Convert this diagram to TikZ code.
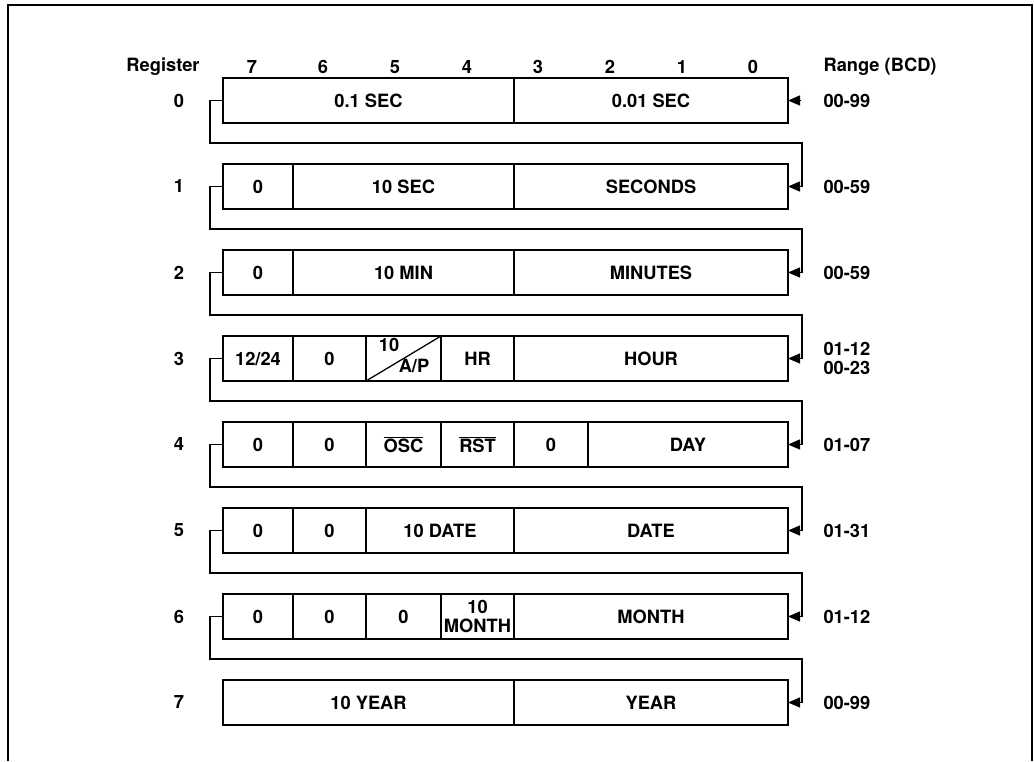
\documentclass[tikz,border=0pt]{standalone}
\usepackage{fontspec}
\setmainfont{TeX Gyre Heros}
\usetikzlibrary{arrows.meta}

\begin{document}
\begin{tikzpicture}[x=1pt,y=-1pt,>={Triangle[length=12pt,width=10pt]},
  font=\fontsize{18.3}{19.5}\selectfont\bfseries,
  cell/.style={draw,line width=1.3pt,minimum height=45pt,inner sep=0pt,outer sep=0pt,align=center},
  link/.style={line width=1.3pt},
  rng/.style={anchor=west,align=left}]
\useasboundingbox (0,0) rectangle (1034,761);
\draw[line width=1.6pt] (8,761) -- (8,5) -- (1032,5) -- (1032,761);

\node (reg) at (163,67) {Register};
\node (b7) at (252,67) {7};
\node (b6) at (323,67) {6};
\node (b5) at (395,67) {5};
\node (b4) at (467,67) {4};
\node (b3) at (538,67) {3};
\node (b2) at (610,67) {2};
\node (b1) at (682,67) {1};
\node (b0) at (753,67) {0};
\node[rng] (rng) at (820,67) {Range (BCD)};

\node (n0) at (179,100.5) {0};
\node (n1) at (179,186.5) {1};
\node (n2) at (179,272.5) {2};
\node (n3) at (179,358.5) {3};
\node (n4) at (179,444.5) {4};
\node (n5) at (179,530.5) {5};
\node (n6) at (179,616.5) {6};
\node (n7) at (179,702.5) {7};

\node[cell,minimum width=291pt] (L0) at (368.5,100.5) {0.1 SEC};
\node[cell,minimum width=274pt] (R0) at (651,100.5) {0.01 SEC};

\node[cell,minimum width=70pt] (L1) at (258,186.5) {0};
\node[cell,minimum width=221pt] (sec10) at (403.5,186.5) {10 SEC};
\node[cell,minimum width=274pt] (R1) at (651,186.5) {SECONDS};

\node[cell,minimum width=70pt] (L2) at (258,272.5) {0};
\node[cell,minimum width=221pt] (min10) at (403.5,272.5) {10 MIN};
\node[cell,minimum width=274pt] (R2) at (651,272.5) {MINUTES};

\node[cell,minimum width=70pt] (L3) at (258,358.5) {12/24};
\node[cell,minimum width=73pt] (z3) at (329.5,358.5) {0};
\node[cell,minimum width=75pt] (ap) at (403.5,358.5) {};
\draw[link] (ap.south west) -- (ap.north east);
\node (ten) at (389,345) {10};
\node (apm) at (414,366) {A/P};
\node[cell,minimum width=73pt] (hr) at (477.5,358.5) {HR};
\node[cell,minimum width=274pt] (R3) at (651,358.5) {HOUR};

\node[cell,minimum width=70pt] (L4) at (258,444.5) {0};
\node[cell,minimum width=73pt] (z4) at (329.5,444.5) {0};
\node[cell,minimum width=75pt] (osc) at (403.5,444.5) {$\overline{\mbox{OSC}}$};
\node[cell,minimum width=73pt] (rst) at (477.5,444.5) {$\overline{\mbox{RST}}$};
\node[cell,minimum width=74pt] (z4b) at (551,444.5) {0};
\node[cell,minimum width=200pt] (R4) at (688,444.5) {DAY};

\node[cell,minimum width=70pt] (L5) at (258,530.5) {0};
\node[cell,minimum width=73pt] (z5) at (329.5,530.5) {0};
\node[cell,minimum width=148pt] (date10) at (440,530.5) {10 DATE};
\node[cell,minimum width=274pt] (R5) at (651,530.5) {DATE};

\node[cell,minimum width=70pt] (L6) at (258,616.5) {0};
\node[cell,minimum width=73pt] (z6) at (329.5,616.5) {0};
\node[cell,minimum width=75pt] (z6b) at (403.5,616.5) {0};
\node[cell,minimum width=73pt] (mon10) at (477.5,616.5) {10\\MONTH};
\node[cell,minimum width=274pt] (R6) at (651,616.5) {MONTH};

\node[cell,minimum width=291pt] (L7) at (368.5,702.5) {10 YEAR};
\node[cell,minimum width=274pt] (R7) at (651,702.5) {YEAR};

\node[rng] (g0) at (820,100.5) {00-99};
\node[rng] (g1) at (820,186.5) {00-59};
\node[rng] (g2) at (820,272.5) {00-59};
\node[rng] (g3) at (820,358.5) {01-12\\00-23};
\node[rng] (g4) at (820,444.5) {01-07};
\node[rng] (g5) at (820,530.5) {01-31};
\node[rng] (g6) at (820,616.5) {01-12};
\node[rng] (g7) at (820,702.5) {00-99};

\coordinate (in0) at (800,100.5);
\coordinate (w0) at (210,143); \coordinate (e0) at (802,143);
\coordinate (w1) at (210,229); \coordinate (e1) at (802,229);
\coordinate (w2) at (210,315); \coordinate (e2) at (802,315);
\coordinate (w3) at (210,401); \coordinate (e3) at (802,401);
\coordinate (w4) at (210,487); \coordinate (e4) at (802,487);
\coordinate (w5) at (210,573); \coordinate (e5) at (802,573);
\coordinate (w6) at (210,659); \coordinate (e6) at (802,659);

\draw[link,->] (in0) -- (R0.east);
\draw[link,->] (L0.west) -| (w0) -- (e0) |- (R1.east);
\draw[link,->] (L1.west) -| (w1) -- (e1) |- (R2.east);
\draw[link,->] (L2.west) -| (w2) -- (e2) |- (R3.east);
\draw[link,->] (L3.west) -| (w3) -- (e3) |- (R4.east);
\draw[link,->] (L4.west) -| (w4) -- (e4) |- (R5.east);
\draw[link,->] (L5.west) -| (w5) -- (e5) |- (R6.east);
\draw[link,->] (L6.west) -| (w6) -- (e6) |- (R7.east);
\end{tikzpicture}
\end{document}
